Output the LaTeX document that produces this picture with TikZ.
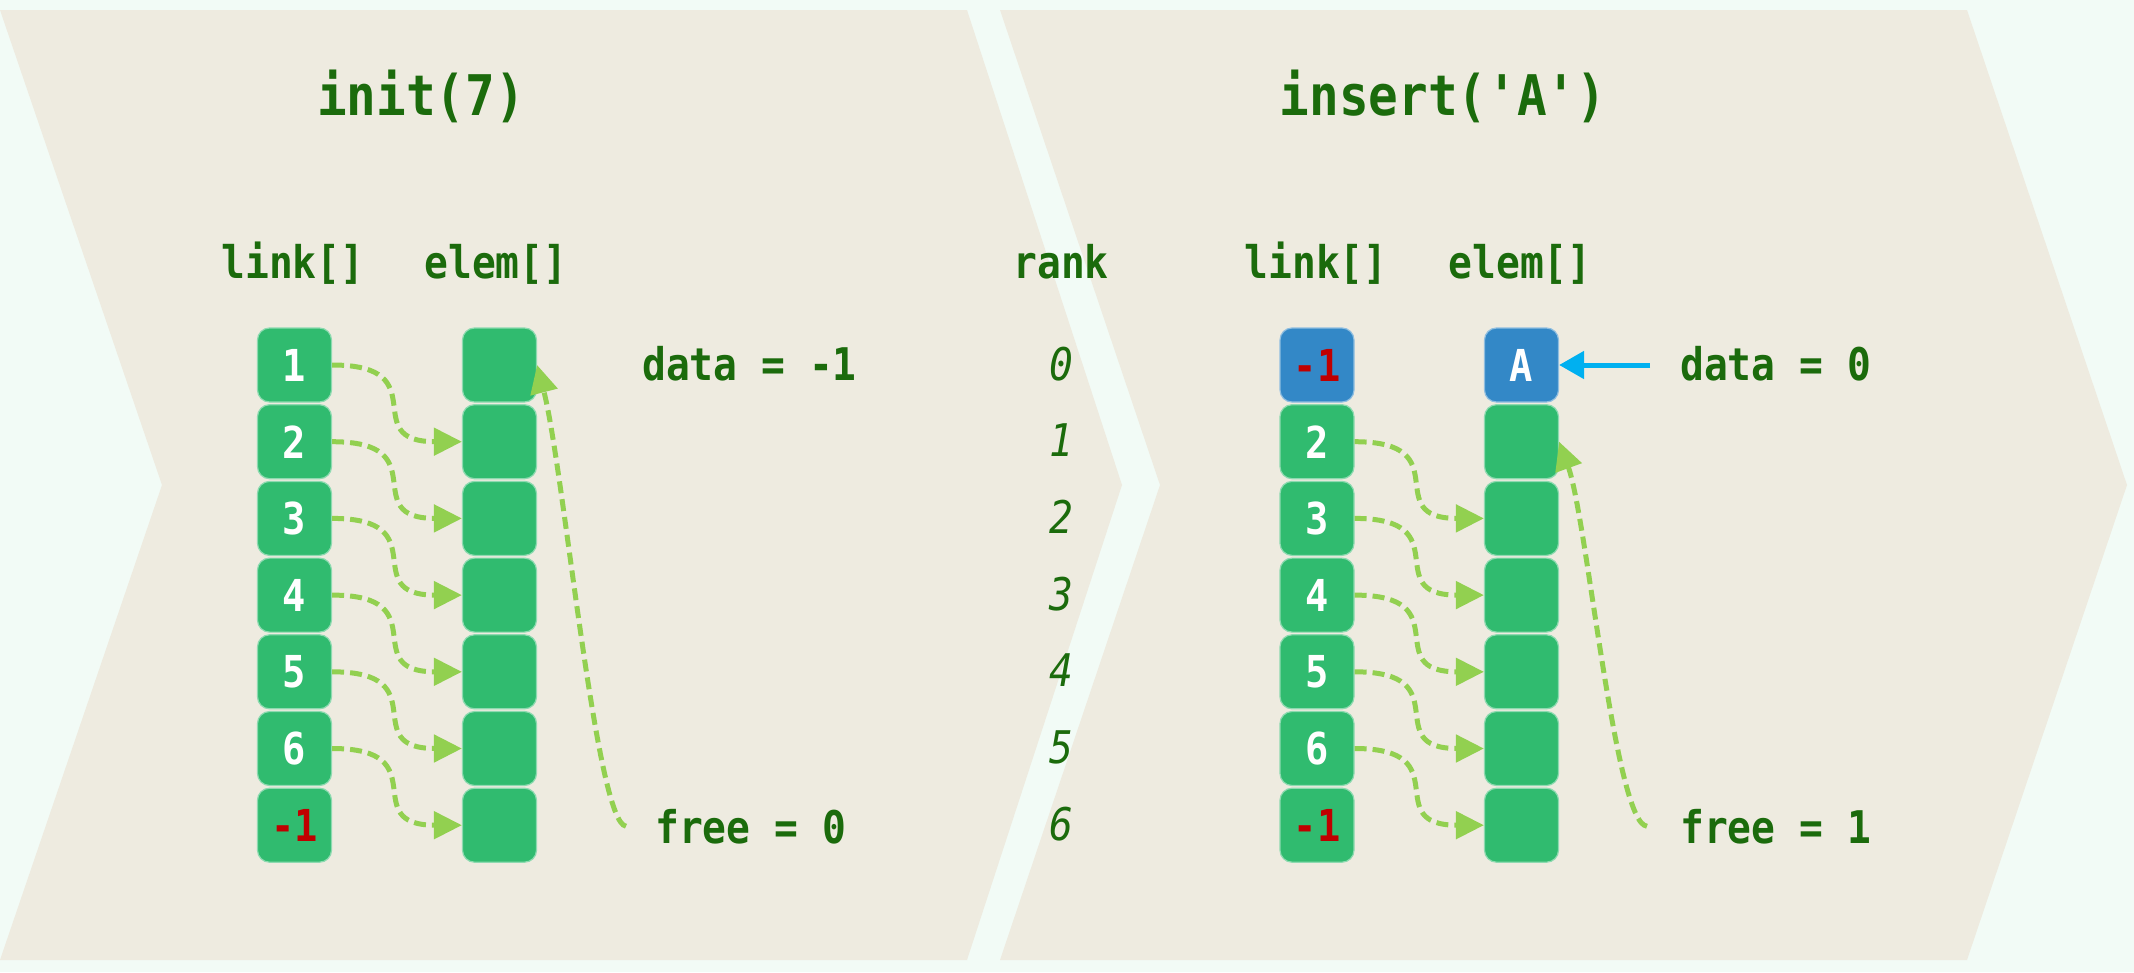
\documentclass[tikz,border=0pt]{standalone}
\usepackage{fontspec}
\setmonofont[FakeStretch=0.88]{DejaVu Sans Mono}
\usepackage{tikz}
\usetikzlibrary{arrows.meta}
\definecolor{mintbg}{HTML}{F2FBF6}
\definecolor{panel}{HTML}{EEEBE0}
\definecolor{codegreen}{HTML}{1B6B0C}
\definecolor{cellgreen}{HTML}{30BB6F}
\definecolor{cellblue}{HTML}{3388C7}
\definecolor{linkgreen}{HTML}{92D050}
\definecolor{datablue}{HTML}{00B0F0}
\definecolor{minusred}{HTML}{C00000}
\newcommand{\lastlink}{\textcolor{minusred}{-1}}
\tikzset{
	cell/.style={draw=cellgreen!55!white, line width=1.2pt, fill=cellgreen, rounded corners=12pt,
		minimum width=74pt, minimum height=74pt, inner sep=0pt, text=white,
		font=\ttfamily\bfseries\fontsize{44}{44}\selectfont},
	usedcell/.style={fill=cellblue, draw=cellblue!55!white},
	headline/.style={anchor=base, inner sep=0pt, text=codegreen, font=\ttfamily\bfseries\fontsize{56}{56}\selectfont},
	header/.style={anchor=base, inner sep=0pt, text=codegreen, font=\ttfamily\bfseries\fontsize{45}{45}\selectfont},
	codetext/.style={anchor=base west, inner sep=0pt, text=codegreen, font=\ttfamily\bfseries\fontsize{45}{45}\selectfont},
	rankno/.style={anchor=base, inner sep=0pt, text=codegreen, font=\ttfamily\itshape\fontsize{45}{45}\selectfont},
	nextlink/.style={linkgreen, line width=5pt, dash pattern=on 12pt off 6pt, -{Triangle[length=28pt,width=27pt]}},
	dataptr/.style={datablue, line width=5pt, -{Triangle[length=25pt,width=27pt]}}
}
\begin{document}
\begin{tikzpicture}[x=1pt, y=-1pt]
	\useasboundingbox (0,0) rectangle (2134,972);
	\fill[mintbg] (0,0) rectangle (2134,972);
	\fill[panel] (0,10) -- (967,10) -- (1122,485) -- (967,960) -- (0,960) -- (162,485) -- cycle;
	\fill[panel] (1000,10) -- (1967,10) -- (2127,485) -- (1967,960) -- (1000,960) -- (1160,485) -- cycle;
	\node[headline] (init) at (421,115) {init(7)};
	\node[headline] (insert) at (1443,115) {insert('A')};
	\node[header] (linkhd) at (293,278) {link[]};
	\node[header] (elemhd) at (496,278) {elem[]};
	\node[header] (rankhd) at (1061,278) {rank};
	\node[header] (ilinkhd) at (1316,278) {link[]};
	\node[header] (ielemhd) at (1520,278) {elem[]};
	\foreach \v [count=\r from 0] in {1,2,3,4,5,6,\lastlink} {
		\node[cell] (link\r) at (294.5,{365+76.7*\r}) {\v};
		\node[cell] (elem\r) at (499.5,{365+76.7*\r}) {};
		\node[rankno] (rank\r) at (1061,{380+76.7*\r}) {\r};
	}
	\node[cell, usedcell] (ilink0) at (1317,365) {\lastlink};
	\node[cell, usedcell] (ielem0) at (1521.5,365) {A};
	\foreach \v [count=\r from 1] in {2,3,4,5,6,\lastlink} {
		\node[cell] (ilink\r) at (1317,{365+76.7*\r}) {\v};
		\node[cell] (ielem\r) at (1521.5,{365+76.7*\r}) {};
	}
	\foreach \s [count=\r from 0] in {1,...,6}
		\draw[nextlink] (link\r.east) to[out=0, in=180, looseness=1.8] (elem\s.west);
	\foreach \s [count=\r from 1] in {2,...,6}
		\draw[nextlink] (ilink\r.east) to[out=0, in=180, looseness=1.8] (ielem\s.west);
	\node[codetext] (data0) at (642,380) {data = -1};
	\node[codetext] (free0) at (655,843) {free = 0};
	\node[codetext] (data1) at (1680,380) {data = 0};
	\node[codetext] (free1) at (1680,843) {free = 1};
	\coordinate (freetail0) at ([xshift=-29pt]free0.west);
	\coordinate (freetail1) at ([xshift=-33pt]free1.west);
	\coordinate (datatail) at ([xshift=-30pt]data1.west);
	\draw[nextlink] (freetail0) .. controls +(-30,-3) and +(27,105) .. (elem0.east);
	\draw[nextlink] (freetail1) .. controls +(-32,-2) and +(28,77) .. (ielem1.east);
	\draw[dataptr] (datatail |- ielem0.east) -- (ielem0.east);
\end{tikzpicture}
\end{document}
